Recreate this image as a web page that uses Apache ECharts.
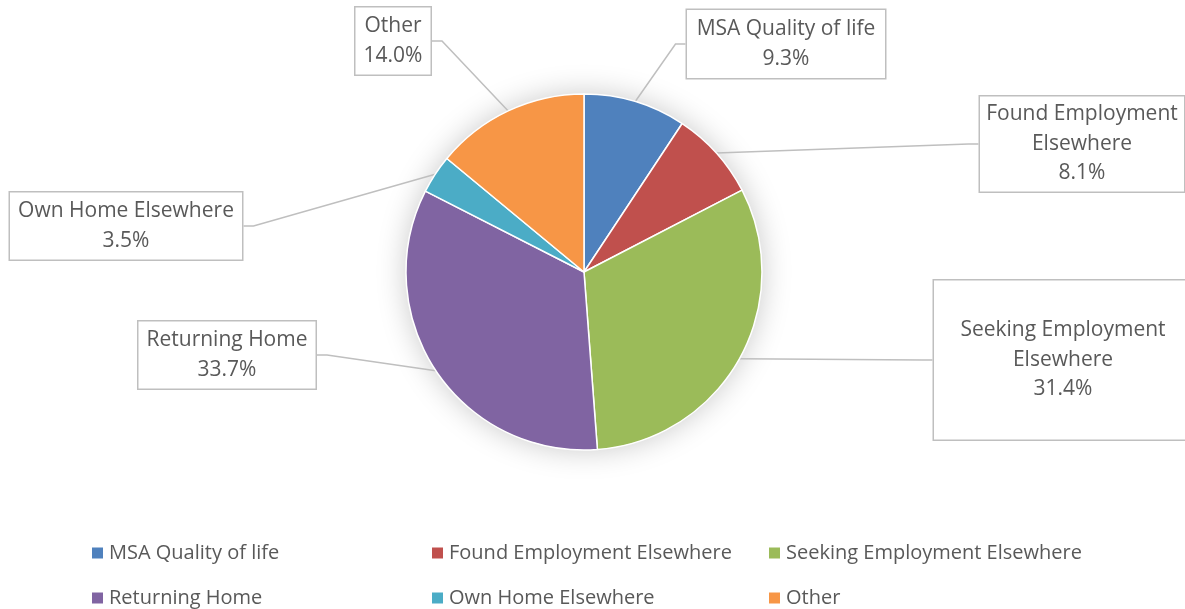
<!DOCTYPE html>
<html>
<head>
<meta charset="utf-8">
<script src="https://cdn.jsdelivr.net/npm/echarts@6/dist/echarts.min.js"></script>
<style>
  html, body { margin: 0; padding: 0; background: #fff; }
  #main { width: 1185px; height: 609px; }
</style>
</head>
<body>
<div id="main"></div>
<script>
const categories = [
  "MSA Quality of life",
  "Found Employment Elsewhere",
  "Seeking Employment Elsewhere",
  "Returning Home",
  "Own Home Elsewhere",
  "Other"
];
const shares = [9.3, 8.1, 31.4, 33.7, 3.5, 14.0];
const colors = ["#4F81BD", "#C0504D", "#9BBB59", "#8064A2", "#4BACC6", "#F79646"];

// callout boxes: centre x, centre y, width, height
const boxes = [
  [786, 44, 200, 68],
  [1082, 144, 206, 95],
  [1063, 360, 260, 159],
  [227, 355, 179, 67],
  [126, 226, 234, 67],
  [393, 41, 77, 67]
];

const LINE_H = 29.5;
const FONT = "'Open Sans', 'Liberation Sans', sans-serif";

function wrapName(name) {
  if (name.length <= 20) return name;
  const i = name.lastIndexOf(" ");
  return name.slice(0, i) + "\n" + name.slice(i + 1);
}

const pieData = categories.map((name, i) => {
  const lines = wrapName(name).split("\n").length + 1;
  const pv = Math.max(0, (boxes[i][3] - lines * LINE_H) / 2);
  return {
    name: name,
    value: shares[i],
    itemStyle: { color: colors[i] },
    label: { width: boxes[i][2] - 2, padding: [pv + 2.5, 0, Math.max(0, pv - 2.5), 0] }
  };
});

const chart = echarts.init(document.getElementById("main"), null, { renderer: "canvas" });

chart.setOption({
  animation: false,
  backgroundColor: "#fff",
  legend: [
    { data: [categories[0], categories[3]], left: 90 },
    { data: [categories[1], categories[4]], left: 430 },
    { data: [categories[2], categories[5]], left: 767 }
  ].map(l => Object.assign({
    orient: "vertical",
    top: 542,
    height: 100,
    padding: 0,
    itemWidth: 13,
    itemHeight: 13,
    itemGap: 23,
    icon: "rect",
    textStyle: { fontFamily: FONT, fontSize: 20, lineHeight: 22, color: "#595959" }
  }, l)),
  series: [
    {
      // soft halo behind the pie
      type: "pie",
      center: [584, 272],
      radius: 178,
      silent: true,
      z: 1,
      label: { show: false },
      labelLine: { show: false },
      itemStyle: { color: "#fff", shadowBlur: 30, shadowColor: "rgba(0,0,0,0.22)" },
      data: [{ value: 1 }]
    },
    {
      type: "pie",
      center: [584, 272],
      radius: 178,
      startAngle: 90,
      clockwise: true,
      percentPrecision: 1,
      z: 2,
      itemStyle: { borderColor: "#fff", borderWidth: 1.5 },
      label: {
        show: true,
        position: "outside",
        formatter: p => wrapName(p.name) + "\n" + p.percent.toFixed(1) + "%",
        fontFamily: FONT,
        fontSize: 21,
        lineHeight: LINE_H,
        color: "#595959",
        align: "center",
        backgroundColor: "#fff",
        borderColor: "#bfbfbf",
        borderWidth: 1.5
      },
      labelLine: {
        show: true,
        length: 10,
        length2: 10,
        lineStyle: { color: "#bfbfbf", width: 1.5 }
      },
      labelLayout: function (params) {
        const b = boxes[params.dataIndex];
        return { x: b[0], y: b[1], align: "center", verticalAlign: "middle" };
      },
      data: pieData
    }
  ]
});
</script>
</body>
</html>
